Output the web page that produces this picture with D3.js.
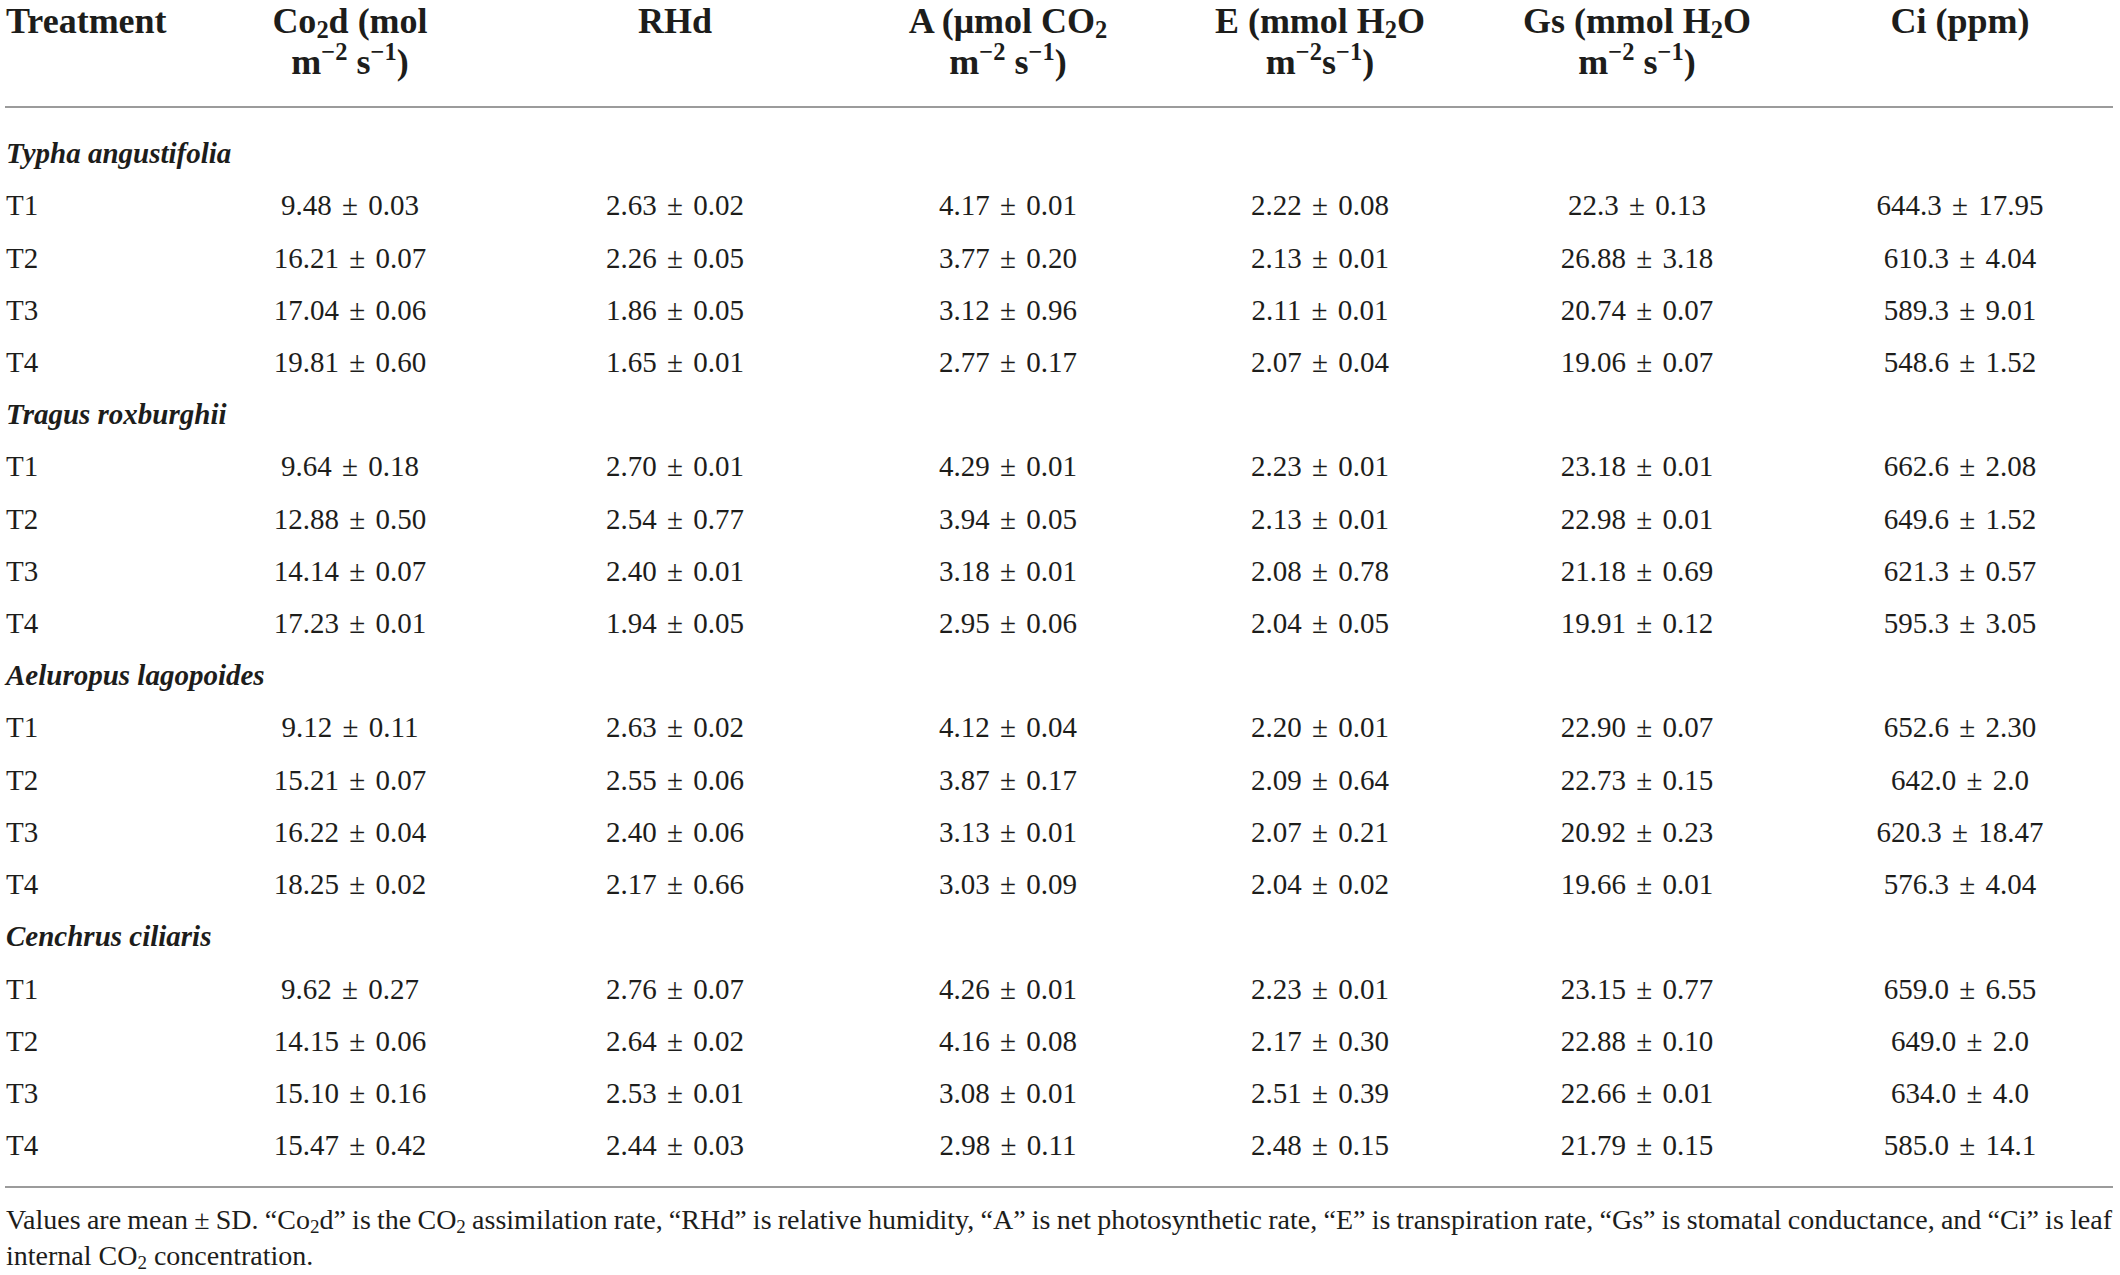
<!DOCTYPE html>
<html>
<head>
<meta charset="utf-8">
<script src="https://cdn.jsdelivr.net/npm/d3@7"></script>
<style>
  html, body { margin: 0; padding: 0; background: #fff; }
  svg { display: block; font-family: "Liberation Serif", "DejaVu Serif", serif; }
</style>
</head>
<body>
<svg id="table" width="2120" height="1275"></svg>
<script>
const WIDTH = 2120;
const HEIGHT = 1275;

// species groups and treatments
const species = ["Typha angustifolia", "Tragus roxburghii", "Aeluropus lagopoides", "Cenchrus ciliaris"];
const treatments = ["T1", "T2", "T3", "T4"];

// column headers, each line a list of [text, kind] pieces
const columnKeys = ["co2d", "rhd", "a", "e", "gs", "ci"];
const headers = [
  [[["Co"], ["2", "sub"], ["d (mol"]], [["m"], ["−2", "sup"], [" s"], ["−1", "sup"], [")"]]],
  [[["RHd"]]],
  [[["A (μmol CO"], ["2", "sub"]], [["m"], ["−2", "sup"], [" s"], ["−1", "sup"], [")"]]],
  [[["E (mmol H"], ["2", "sub"], ["O"]], [["m"], ["−2", "sup"], ["s"], ["−1", "sup"], [")"]]],
  [[["Gs (mmol H"], ["2", "sub"], ["O"]], [["m"], ["−2", "sup"], [" s"], ["−1", "sup"], [")"]]],
  [[["Ci (ppm)"]]]
];

// values, 16 per column (4 species x T1..T4)
const co2d = ["9.48 ± 0.03", "16.21 ± 0.07", "17.04 ± 0.06", "19.81 ± 0.60",
              "9.64 ± 0.18", "12.88 ± 0.50", "14.14 ± 0.07", "17.23 ± 0.01",
              "9.12 ± 0.11", "15.21 ± 0.07", "16.22 ± 0.04", "18.25 ± 0.02",
              "9.62 ± 0.27", "14.15 ± 0.06", "15.10 ± 0.16", "15.47 ± 0.42"];
const rhd = ["2.63 ± 0.02", "2.26 ± 0.05", "1.86 ± 0.05", "1.65 ± 0.01",
             "2.70 ± 0.01", "2.54 ± 0.77", "2.40 ± 0.01", "1.94 ± 0.05",
             "2.63 ± 0.02", "2.55 ± 0.06", "2.40 ± 0.06", "2.17 ± 0.66",
             "2.76 ± 0.07", "2.64 ± 0.02", "2.53 ± 0.01", "2.44 ± 0.03"];
const aRate = ["4.17 ± 0.01", "3.77 ± 0.20", "3.12 ± 0.96", "2.77 ± 0.17",
               "4.29 ± 0.01", "3.94 ± 0.05", "3.18 ± 0.01", "2.95 ± 0.06",
               "4.12 ± 0.04", "3.87 ± 0.17", "3.13 ± 0.01", "3.03 ± 0.09",
               "4.26 ± 0.01", "4.16 ± 0.08", "3.08 ± 0.01", "2.98 ± 0.11"];
const eRate = ["2.22 ± 0.08", "2.13 ± 0.01", "2.11 ± 0.01", "2.07 ± 0.04",
               "2.23 ± 0.01", "2.13 ± 0.01", "2.08 ± 0.78", "2.04 ± 0.05",
               "2.20 ± 0.01", "2.09 ± 0.64", "2.07 ± 0.21", "2.04 ± 0.02",
               "2.23 ± 0.01", "2.17 ± 0.30", "2.51 ± 0.39", "2.48 ± 0.15"];
const gs = ["22.3 ± 0.13", "26.88 ± 3.18", "20.74 ± 0.07", "19.06 ± 0.07",
            "23.18 ± 0.01", "22.98 ± 0.01", "21.18 ± 0.69", "19.91 ± 0.12",
            "22.90 ± 0.07", "22.73 ± 0.15", "20.92 ± 0.23", "19.66 ± 0.01",
            "23.15 ± 0.77", "22.88 ± 0.10", "22.66 ± 0.01", "21.79 ± 0.15"];
const ci = ["644.3 ± 17.95", "610.3 ± 4.04", "589.3 ± 9.01", "548.6 ± 1.52",
            "662.6 ± 2.08", "649.6 ± 1.52", "621.3 ± 0.57", "595.3 ± 3.05",
            "652.6 ± 2.30", "642.0 ± 2.0", "620.3 ± 18.47", "576.3 ± 4.04",
            "659.0 ± 6.55", "649.0 ± 2.0", "634.0 ± 4.0", "585.0 ± 14.1"];

const footnote = [
  [["Values are mean ± SD. “Co"], ["2", "sub"], ["d” is the CO"], ["2", "sub"],
   [" assimilation rate, “RHd” is relative humidity, “A” is net photosynthetic rate, “E” is transpiration rate, “Gs” is stomatal conductance, and “Ci” is leaf"]],
  [["internal CO"], ["2", "sub"], [" concentration."]]
];

const columns = [co2d, rhd, aRate, eRate, gs, ci];

const TEXT = "#1d1d1b";
const BODY = 29, HEAD = 36, NOTE = 28;

const svg = d3.select("#table");

// rows: one group line per species followed by its 4 treatments
const rows = [];
species.forEach((s, si) => {
  rows.push({ type: "group", label: s });
  treatments.forEach((t, ti) => rows.push({ type: "row", label: t, idx: si * 4 + ti }));
});

const y = d3.scalePoint()
  .domain(d3.range(rows.length))
  .range([153, 1145]);

// column centres are not evenly spaced in the original
const x = d3.scaleOrdinal()
  .domain(columnKeys)
  .range([350, 675, 1008, 1320, 1637, 1960]);

const LEFT = 6;

// writes sub/superscript pieces into a text element
function rich(sel, pieces, size) {
  let off = 0;
  pieces.forEach(([t, kind]) => {
    const target = kind === "sub" ? size * 0.16 : kind === "sup" ? -size * 0.38 : 0;
    sel.append("tspan")
      .attr("dy", target - off)
      .attr("font-size", kind ? size * 0.68 : size)
      .text(t);
    off = target;
  });
}

// header
const head = svg.append("g").attr("font-weight", "bold").attr("fill", TEXT);
head.append("text")
  .attr("x", LEFT).attr("y", 20 + HEAD * 0.35)
  .attr("font-size", HEAD)
  .text("Treatment");

headers.forEach((lines, ci) => {
  lines.forEach((line, li) => {
    const t = head.append("text")
      .attr("x", x(columnKeys[ci]))
      .attr("y", 20 + li * 41 + HEAD * 0.35)
      .attr("text-anchor", "middle")
      .attr("font-size", HEAD);
    rich(t, line, HEAD);
  });
});

// rules
svg.append("g").selectAll("line")
  .data([107, 1187])
  .join("line")
  .attr("x1", 5).attr("x2", 2113)
  .attr("y1", d => d).attr("y2", d => d)
  .attr("stroke", "#9b9b9b")
  .attr("stroke-width", 2);

// body
const body = svg.append("g").attr("fill", TEXT).attr("font-size", BODY);

body.selectAll("text.label")
  .data(rows)
  .join("text")
  .attr("class", "label")
  .attr("x", LEFT)
  .attr("y", (d, i) => y(i))
  .attr("dy", "0.35em")
  .attr("font-style", d => d.type === "group" ? "italic" : null)
  .attr("font-weight", d => d.type === "group" ? "bold" : null)
  .text(d => d.label);

const cells = [];
rows.forEach((r, i) => {
  if (r.type !== "row") return;
  columns.forEach((col, c) => cells.push({ key: columnKeys[c], row: i, v: col[r.idx] }));
});

body.selectAll("text.cell")
  .data(cells)
  .join("text")
  .attr("class", "cell")
  .attr("x", d => x(d.key))
  .attr("y", d => y(d.row))
  .attr("dy", "0.35em")
  .attr("text-anchor", "middle")
  .attr("word-spacing", 3)
  .text(d => d.v);

// footnote, first line justified to the table width
const note = svg.append("g").attr("fill", TEXT).attr("font-size", NOTE);
footnote.forEach((line, i) => {
  const t = note.append("text")
    .attr("x", LEFT)
    .attr("y", 1219 + i * 36 + NOTE * 0.35);
  rich(t, line, NOTE);
  if (i === 0) {
    const spaces = line.map(p => p[0]).join("").split(" ").length - 1;
    const extra = (2112 - LEFT - t.node().getComputedTextLength()) / spaces;
    t.attr("word-spacing", extra);
  }
});
</script>
</body>
</html>
